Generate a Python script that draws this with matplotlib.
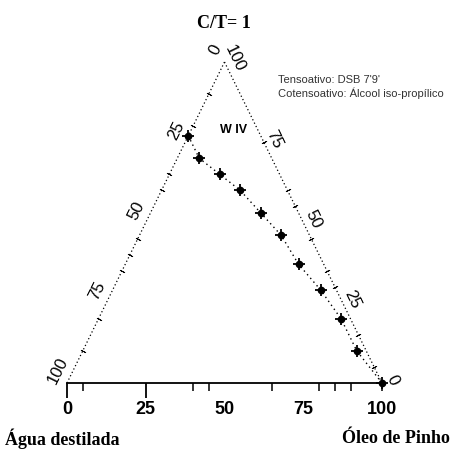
import numpy as np
import matplotlib
matplotlib.use("Agg")
import matplotlib.pyplot as plt

# composition of the points on the C/T = 1 line (% mass)
oleo = [0, 7, 16, 25, 35, 45, 55, 66, 77, 87, 100]
ct = [77, 70, 65, 60, 53, 46, 37, 29, 20, 10, 0]
agua = [23, 23, 19, 15, 12, 9, 8, 5, 3, 3, 0]

# axis labels
left_labels = [100, 75, 50, 25, 0]     # agua along the left edge
right_labels = [100, 75, 50, 25, 0]    # C/T along the right edge
base_labels = [0, 25, 50, 75, 100]
base_long = [0, 25]
base_short = [5, 40, 45, 65, 80, 85, 90, 100]
left_minor = [10, 20, 35, 40, 55, 60, 65, 80, 90]
right_minor = [5, 15, 30, 35, 45, 55, 60, 75]


def tern(o, c):
    # oleo + C/T -> plot coords (base 0..100, apex at y=100)
    o = np.asarray(o, dtype=float)
    c = np.asarray(c, dtype=float)
    return o + c / 2.0, c


fig = plt.figure(figsize=(4.51, 4.52), dpi=100)
ax = fig.add_axes([67 / 451, 68 / 452, 315 / 451, 321 / 452])
ax.set_xlim(0, 100)
ax.set_ylim(0, 100)
for s in ["top", "left", "right"]:
    ax.spines[s].set_visible(False)
ax.spines["bottom"].set_linewidth(1.3)
ax.set_yticks([])

# bottom axis ticks
ax.set_xticks(base_long)
ax.set_xticklabels([])
ax.set_xticks(base_short, minor=True)
ax.tick_params(axis="x", which="major", length=11, width=1.3, direction="out")
ax.tick_params(axis="x", which="minor", length=6, width=1.1, direction="out")
for v in base_labels:
    ax.annotate(str(v), xy=(v, 0), xytext=(0, -26), textcoords="offset pixels",
                ha="center", va="center", fontsize=13, fontweight="bold",
                family=["Liberation Sans", "DejaVu Sans"])

# dotted side edges
ax.plot([0, 50], [0, 100], ls=(0, (1, 2)), color="black", lw=0.9, clip_on=False)
ax.plot([50, 100], [100, 0], ls=(0, (1, 2)), color="black", lw=0.9, clip_on=False)

# small ticks on the side edges
lx, ly = tern(np.zeros(len(left_minor)), 100 - np.array(left_minor))
ax.plot(lx, ly, ls="none", marker=(2, 2, 63.5), ms=4, mew=0.6, color="black", clip_on=False)
rx, ry = tern(100 - np.array(right_minor), right_minor)
ax.plot(rx, ry, ls="none", marker=(2, 2, -64.2), ms=4, mew=0.6, color="black", clip_on=False)

# side edge labels
for v in left_labels:
    x, y = tern(0, 100 - v)
    ax.annotate(str(v), xy=(x, y), xytext=(-9, 13), textcoords="offset pixels",
                ha="center", va="center", rotation=63.5, fontsize=12,
                family=["Liberation Sans", "DejaVu Sans"])
for v in right_labels:
    x, y = tern(100 - v, v)
    ax.annotate(str(v), xy=(x, y), xytext=(10, 4), textcoords="offset pixels",
                ha="center", va="center", rotation=-64.2, fontsize=12,
                family=["Liberation Sans", "DejaVu Sans"])

# experimental points
px, py = tern(oleo, ct)
ax.plot(px, py, ls=(0, (1, 2.5)), lw=1.0, color="black", clip_on=False)
ax.plot(px, py, ls="none", marker="+", ms=9, mew=1.3, color="black", clip_on=False)
ax.plot(px, py, ls="none", marker="o", ms=4.5, color="black", clip_on=False)

ax.text(*tern(9, 79), "W IV", ha="left", va="center", fontsize=9, fontweight="bold",
        family=["Liberation Sans", "DejaVu Sans"])

# titles and corner names
fig.text(224 / 451, 1 - 24 / 452, "C/T= 1", ha="center", va="center", fontsize=13,
         fontweight="bold", family=["Liberation Serif", "DejaVu Serif"])
fig.text(278 / 451, 1 - 80 / 452, "Tensoativo: DSB 7'9'", ha="left", va="center",
         fontsize=8, color="#333333", family=["Liberation Sans", "DejaVu Sans"])
fig.text(278 / 451, 1 - 93 / 452, "Cotensoativo: Álcool iso-propílico", ha="left", va="center",
         fontsize=8, color="#333333", family=["Liberation Sans", "DejaVu Sans"])
fig.text(5 / 451, 1 - 439 / 452, "Água destilada", ha="left", va="center", fontsize=13,
         fontweight="bold", family=["Liberation Serif", "DejaVu Serif"])
fig.text(342 / 451, 1 - 439 / 452, "Óleo de Pinho", ha="left", va="center", fontsize=13,
         fontweight="bold", family=["Liberation Serif", "DejaVu Serif"])

fig.savefig("out.png", dpi=100)
